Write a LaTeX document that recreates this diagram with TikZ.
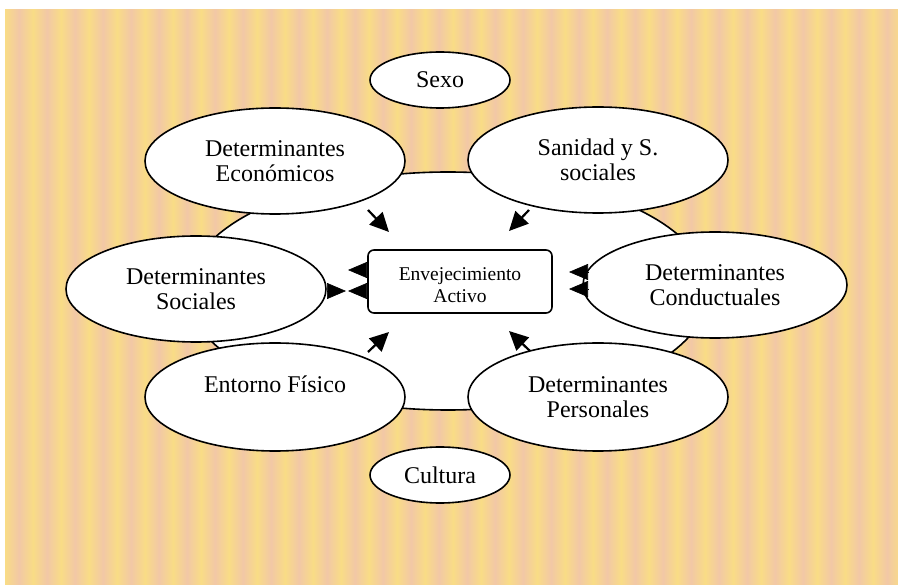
\documentclass[tikz,border=0pt]{standalone}
\usepackage{fontspec}
\setmainfont{Liberation Serif}
\usetikzlibrary{shapes.geometric,arrows.meta}
\definecolor{bgyel}{RGB}{249,220,134}
\definecolor{bgpink}{RGB}{242,200,166}
\tikzset{
  oval/.style={ellipse, draw=black, line width=1.6pt, fill=white, inner sep=0pt, align=center,
    font=\fontsize{24}{25}\selectfont},
  bigoval/.style={oval, minimum width=260pt, minimum height=106pt},
  smalloval/.style={oval, minimum width=140pt, minimum height=56pt},
  centerbox/.style={draw=black, line width=1.6pt, fill=white, rounded corners=6pt,
    minimum width=184pt, minimum height=63pt, align=center, inner sep=0pt,
    font=\fontsize{19.5}{22}\selectfont},
  diagarrow/.style={line width=2.2pt, -{Triangle[length=19pt,width=18pt]}},
  headonly/.style={line width=0.6pt, -{Triangle[length=19pt,width=16pt]}}
}
\begin{document}
\begin{tikzpicture}[x=1pt,y=-1pt]
\useasboundingbox (0,0) rectangle (898,585);
% background stripes
\foreach \i in {0,...,31} {
  \pgfmathsetmacro{\xa}{5+28*\i}
  \pgfmathsetmacro{\xb}{\xa+14}
  \pgfmathsetmacro{\xc}{\xa+28}
  \shade[left color=bgyel, right color=bgpink] (\xa,10) rectangle (\xb,585);
  \shade[left color=bgpink, right color=bgyel] (\xb,10) rectangle (\xc,585);
}
% big background ellipse
\node[ellipse, draw=black, line width=1.6pt, fill=white, minimum width=522pt, minimum height=238pt, inner sep=0pt] (big) at (448,291) {};
% surrounding ovals
\node[smalloval] (sexo) at (440,80) {Sexo};
\node[bigoval] (eco) at (275,161) {Determinantes\\Económicos};
\node[bigoval] (san) at (598,160) {Sanidad y S.\\sociales};
\node[bigoval] (soc) at (196,289) {Determinantes\\Sociales};
\node[bigoval, minimum width=264pt] (con) at (715,285) {Determinantes\\Conductuales};
\node[bigoval, minimum height=108pt] (ent) at (275,397) {Entorno Físico\\\mbox{}};
\node[bigoval, minimum height=108pt] (per) at (598,397) {Determinantes\\Personales};
\node[smalloval] (cul) at (440,475) {Cultura};
% centre
\node[centerbox] (act) at (460,281.5) {\rule{0pt}{21pt}Envejecimiento\\Activo};
% diagonal arrows
\coordinate (a1s) at (368,210); \coordinate (a1t) at (389,232);
\coordinate (a2s) at (529,210); \coordinate (a2t) at (509,231);
\coordinate (a3s) at (368,352); \coordinate (a3t) at (389,332);
\coordinate (a4s) at (530,351); \coordinate (a4t) at (509,331);
\draw[diagarrow] (a1s) -- (a1t);
\draw[diagarrow] (a2s) -- (a2t);
\draw[diagarrow] (a3s) -- (a3t);
\draw[diagarrow] (a4s) -- (a4t);
% left heads
\coordinate (l1b) at (act.west |- 0,270); \coordinate (l1t) at (348,270);
\coordinate (l2b) at (act.west |- 0,291); \coordinate (l2t) at (348,291);
\coordinate (l3b) at (327,291); \coordinate (l3t) at (346,291);
\draw[headonly] (l1b) -- (l1t);
\draw[headonly] (l2b) -- (l2t);
\draw[headonly] (l3b) -- (l3t);
% right heads
\coordinate (r1b) at (589,272); \coordinate (r1t) at (569,272);
\coordinate (r2b) at (589,289); \coordinate (r2t) at (569,289);
\draw[headonly] (r1b) -- (r1t);
\draw[headonly] (r2b) -- (r2t);
\end{tikzpicture}
\end{document}
